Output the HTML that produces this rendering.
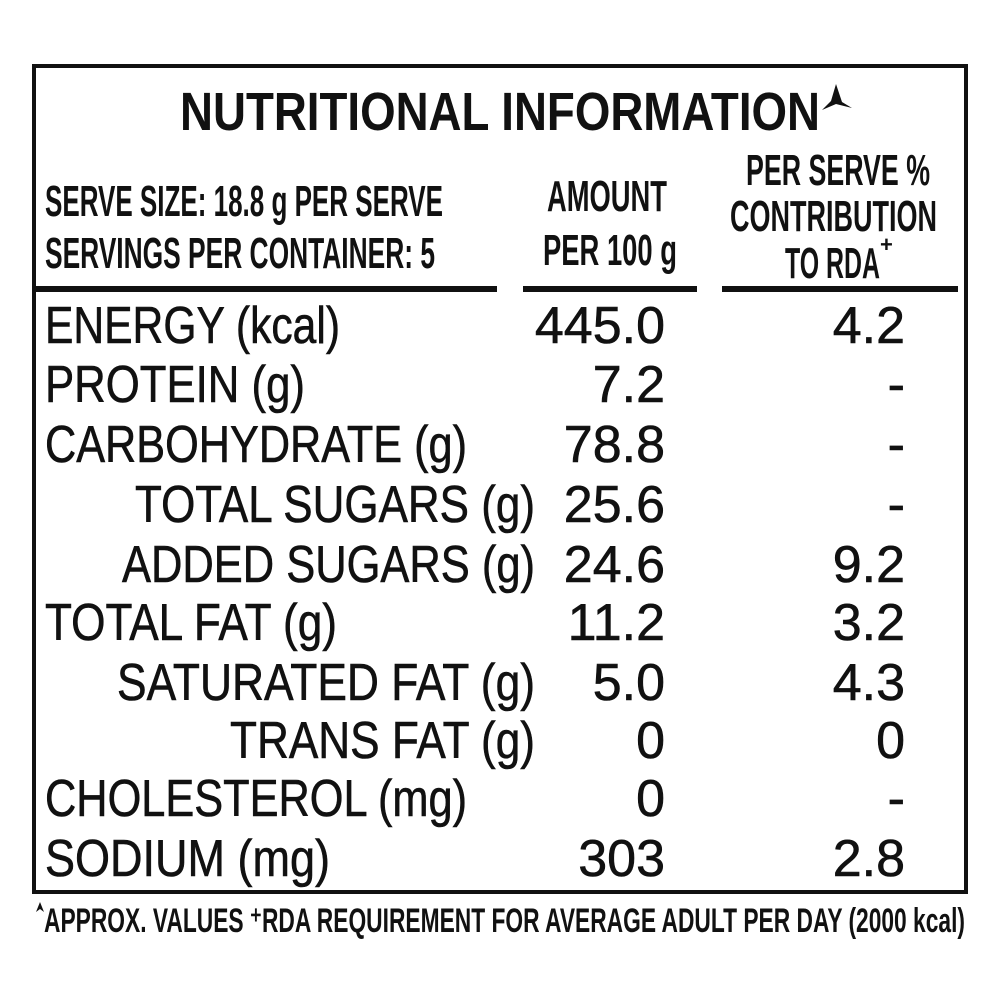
<!DOCTYPE html>
<html><head><meta charset="utf-8"><style>
html,body{margin:0;padding:0;background:#fff;}
svg{display:block}
text{font-family:"Liberation Sans",sans-serif;fill:#111;}
.l{font-size:52px;stroke:#111;stroke-width:0.6px;}
.n{font-size:52px;stroke:#111;stroke-width:0.6px;text-anchor:end;}
.h{font-size:44px;font-weight:bold;}
</style></head><body>
<svg width="1000" height="1000" viewBox="0 0 1000 1000">
<rect x="0" y="0" width="1000" height="1000" fill="#fff"/>
<rect x="34" y="66" width="932" height="826" fill="none" stroke="#111" stroke-width="4"/>
<text x="180" y="130" font-size="54" font-weight="bold" textLength="640" lengthAdjust="spacingAndGlyphs">NUTRITIONAL INFORMATION</text>
<path d="M836 84 L842 102 L852 108 L836 104 L822 110 L831 101 Z" fill="#111"/>
<text class="h" x="45" y="216" textLength="398" lengthAdjust="spacingAndGlyphs">SERVE SIZE: 18.8 g PER SERVE</text>
<text class="h" x="45" y="268" textLength="390" lengthAdjust="spacingAndGlyphs">SERVINGS PER CONTAINER: 5</text>
<text class="h" x="547" y="211" textLength="120" lengthAdjust="spacingAndGlyphs">AMOUNT</text>
<text class="h" x="543" y="265" textLength="134" lengthAdjust="spacingAndGlyphs">PER 100 g</text>
<text class="h" x="746" y="185" textLength="184" lengthAdjust="spacingAndGlyphs">PER SERVE %</text>
<text class="h" x="730" y="231" textLength="207" lengthAdjust="spacingAndGlyphs">CONTRIBUTION</text>
<text class="h" x="785" y="278" textLength="95" lengthAdjust="spacingAndGlyphs">TO RDA</text>
<text x="880" y="252" font-size="22" font-weight="bold">+</text>
<rect x="35" y="286" width="462" height="6" fill="#111"/>
<rect x="523" y="286" width="174" height="6" fill="#111"/>
<rect x="722" y="286" width="236" height="6" fill="#111"/>
<g>
<text class="l" x="45" y="343" textLength="295" lengthAdjust="spacingAndGlyphs">ENERGY (kcal)</text>
<text class="l" x="45" y="402" textLength="260" lengthAdjust="spacingAndGlyphs">PROTEIN (g)</text>
<text class="l" x="45" y="462" textLength="422" lengthAdjust="spacingAndGlyphs">CARBOHYDRATE (g)</text>
<text class="l" x="135" y="522" textLength="400" lengthAdjust="spacingAndGlyphs">TOTAL SUGARS (g)</text>
<text class="l" x="122" y="582" textLength="413" lengthAdjust="spacingAndGlyphs">ADDED SUGARS (g)</text>
<text class="l" x="45" y="640" textLength="292" lengthAdjust="spacingAndGlyphs">TOTAL FAT (g)</text>
<text class="l" x="117" y="700" textLength="418" lengthAdjust="spacingAndGlyphs">SATURATED FAT (g)</text>
<text class="l" x="230" y="758" textLength="305" lengthAdjust="spacingAndGlyphs">TRANS FAT (g)</text>
<text class="l" x="45" y="816" textLength="422" lengthAdjust="spacingAndGlyphs">CHOLESTEROL (mg)</text>
<text class="l" x="45" y="876" textLength="285" lengthAdjust="spacingAndGlyphs">SODIUM (mg)</text>
</g>
<g>
<text class="n" x="665" y="343">445.0</text>
<text class="n" x="665" y="402">7.2</text>
<text class="n" x="665" y="462">78.8</text>
<text class="n" x="665" y="522">25.6</text>
<text class="n" x="665" y="582">24.6</text>
<text class="n" x="665" y="640">11.2</text>
<text class="n" x="665" y="700">5.0</text>
<text class="n" x="665" y="758">0</text>
<text class="n" x="665" y="816">0</text>
<text class="n" x="665" y="876">303</text>
</g>
<g>
<text class="n" x="905" y="343">4.2</text>
<text class="n" x="905" y="402">-</text>
<text class="n" x="905" y="462">-</text>
<text class="n" x="905" y="522">-</text>
<text class="n" x="905" y="582">9.2</text>
<text class="n" x="905" y="640">3.2</text>
<text class="n" x="905" y="700">4.3</text>
<text class="n" x="905" y="758">0</text>
<text class="n" x="905" y="816">-</text>
<text class="n" x="905" y="876">2.8</text>
</g>
<path d="M36 912 L40 902 L44 912 L40 909 Z" fill="#111"/>
<text x="44" y="932" font-size="34" font-weight="bold" textLength="921" lengthAdjust="spacingAndGlyphs">APPROX. VALUES ⁺RDA REQUIREMENT FOR AVERAGE ADULT PER DAY (2000 kcal)</text>
</svg>
</body></html>
